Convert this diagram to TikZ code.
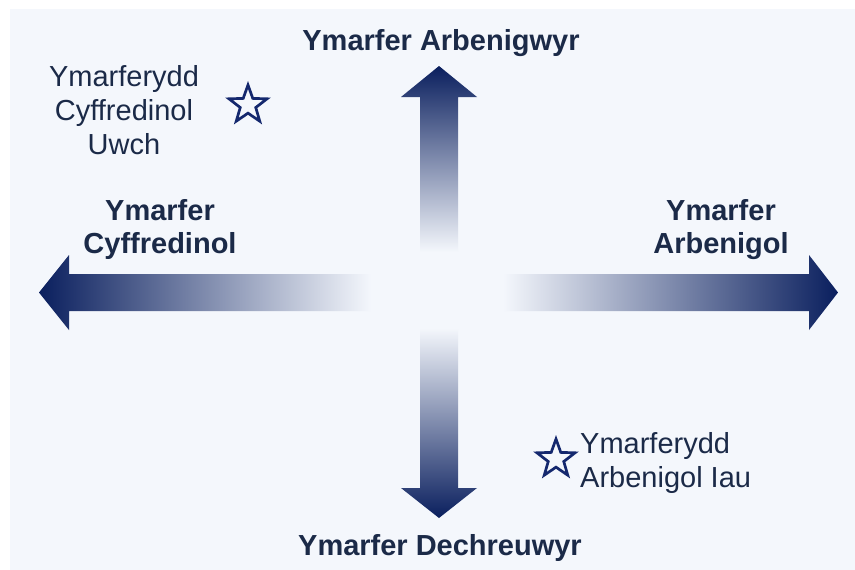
\documentclass[tikz,border=0pt]{standalone}
\usepackage{fontspec}
\setmainfont{Liberation Sans}
\usetikzlibrary{shapes.geometric}
\definecolor{bgc}{HTML}{F4F7FC}
\definecolor{navy}{HTML}{0A1F5E}
\definecolor{txt}{HTML}{1B2A48}
\definecolor{starc}{HTML}{14286E}
\tikzset{
  lbl/.style={inner sep=0pt, text=txt, font=\fontsize{29}{34}\selectfont},
  blbl/.style={lbl, font=\fontsize{29}{33}\selectfont\bfseries, align=center},
  starmark/.style={star, star points=5, star point ratio=2.45, minimum size=40pt, inner sep=0pt, draw=starc, line width=2.7pt, fill=bgc}
}
\begin{document}
\begin{tikzpicture}[x=1pt,y=-1pt]
\useasboundingbox (0,0) rectangle (855,570);
\fill[white] (0,0) rectangle (855,570);
\fill[bgc] (10,9) rectangle (855,570);
% left arrow
\shade[left color=navy, right color=bgc]
  (39,292.5) -- (69,255) -- (69,274) -- (371,274) -- (371,311) -- (69,311) -- (69,330) -- cycle;
% right arrow
\shade[left color=bgc, right color=navy]
  (838,292.5) -- (809,255) -- (809,274) -- (503,274) -- (503,311) -- (809,311) -- (809,330) -- cycle;
% up arrow
\shade[top color=navy, bottom color=bgc]
  (439,66) -- (477,97) -- (458,97) -- (458,252) -- (420,252) -- (420,97) -- (401,97) -- cycle;
% down arrow
\shade[top color=bgc, bottom color=navy]
  (439,518) -- (477,488) -- (458,488) -- (458,328) -- (420,328) -- (420,488) -- (401,488) -- cycle;
% labels
\node[blbl, anchor=north] (top) at (441,29.5) {Ymarfer Arbenigwyr};
\node[blbl, anchor=north] (bottom) at (440,534.5) {Ymarfer Dechreuwyr};
\node[blbl, anchor=north] (left) at (160,199.5) {Ymarfer\\Cyffredinol};
\node[blbl, anchor=north] (right) at (721,199.5) {Ymarfer\\Arbenigol};
\node[lbl, align=center, anchor=north] (uwch) at (124,65.5) {Ymarferydd\\Cyffredinol\\Uwch};
\node[lbl, align=left, anchor=north west] (iau) at (580,432.5) {Ymarferydd\\Arbenigol Iau};
\node[starmark] (s1) at (248,105) {};
\node[starmark] (s2) at (556,459) {};
\end{tikzpicture}
\end{document}
